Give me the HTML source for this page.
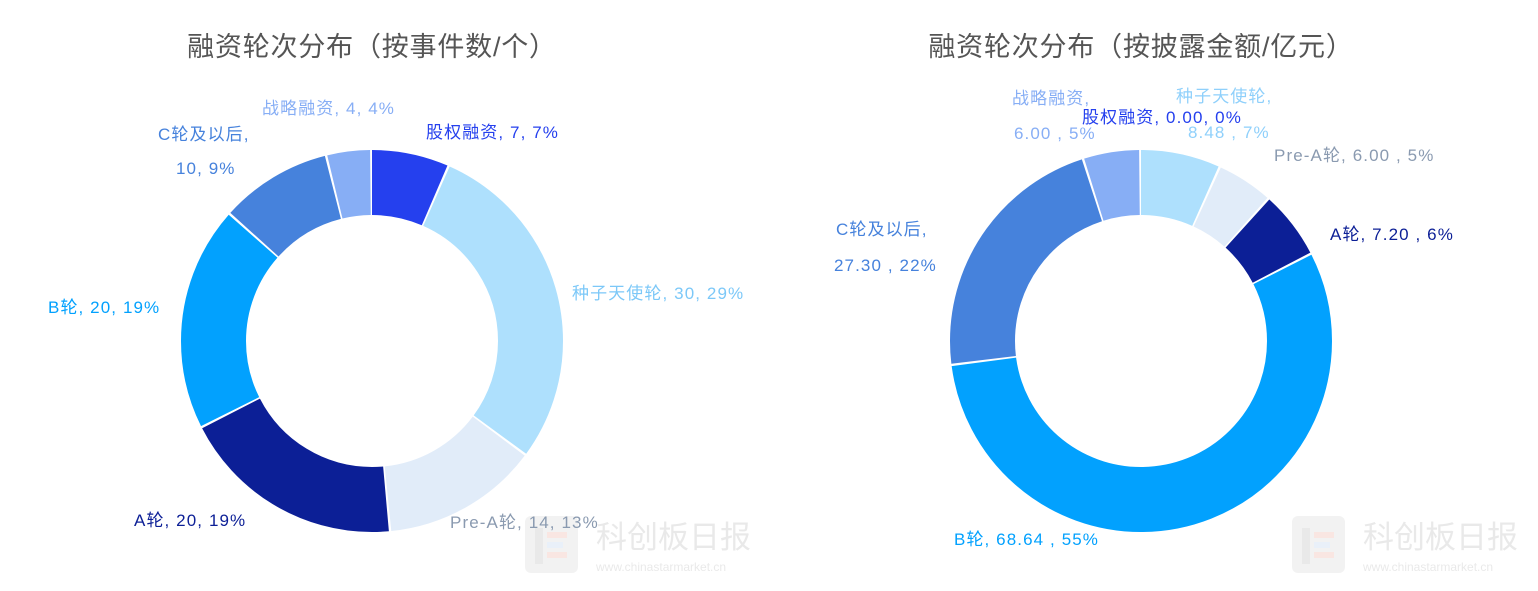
<!DOCTYPE html>
<html><head><meta charset="utf-8"><style>
body{margin:0;background:#fff;}
svg text{font-family:"Liberation Sans","Noto Sans CJK SC",sans-serif;}
</style></head><body>
<svg width="1538" height="586" viewBox="0 0 1538 586" xmlns="http://www.w3.org/2000/svg">
<rect width="1538" height="586" fill="#fff"/>
<text x="372" y="56" font-size="27" fill="#555" text-anchor="middle" letter-spacing="0.8">融资轮次分布（按事件数/个）</text>
<text x="1141" y="56" font-size="27" fill="#555" text-anchor="middle" letter-spacing="0.8">融资轮次分布（按披露金额/亿元）</text>

<!-- watermarks -->
<g opacity="0.45">
<rect x="525" y="516" width="53" height="57" rx="6" fill="#e4e4e4"/>
<rect x="535" y="528" width="8" height="36" fill="#d0d0d0"/>
<rect x="547" y="532" width="20" height="6" fill="#f2c8c0"/>
<rect x="547" y="542" width="16" height="6" fill="#cfe0f3"/>
<rect x="547" y="552" width="20" height="6" fill="#f2c8c0"/>
<text x="596" y="548" font-size="31" fill="#cfcfcf">科创板日报</text>
<text x="596" y="571" font-size="12" fill="#cfcfcf">www.chinastarmarket.cn</text>
<rect x="1292" y="516" width="53" height="57" rx="6" fill="#e4e4e4"/>
<rect x="1302" y="528" width="8" height="36" fill="#d0d0d0"/>
<rect x="1314" y="532" width="20" height="6" fill="#f2c8c0"/>
<rect x="1314" y="542" width="16" height="6" fill="#cfe0f3"/>
<rect x="1314" y="552" width="20" height="6" fill="#f2c8c0"/>
<text x="1363" y="548" font-size="31" fill="#cfcfcf">科创板日报</text>
<text x="1363" y="571" font-size="12" fill="#cfcfcf">www.chinastarmarket.cn</text>
</g>

<!-- left donut -->
<g transform="translate(372,341) rotate(-90)" fill="none" stroke-width="65">
<circle r="158.5" stroke="#2540ee" stroke-dasharray="64.39 1000" stroke-dashoffset="0"/>
<circle r="158.5" stroke="#aee0fd" stroke-dasharray="282.54 1000" stroke-dashoffset="-66.39"/>
<circle r="158.5" stroke="#e1ecf9" stroke-dasharray="130.78 1000" stroke-dashoffset="-350.93"/>
<circle r="158.5" stroke="#0c1f96" stroke-dasharray="187.69 1000" stroke-dashoffset="-483.71"/>
<circle r="158.5" stroke="#02a1fe" stroke-dasharray="187.69 1000" stroke-dashoffset="-673.40"/>
<circle r="158.5" stroke="#4682dc" stroke-dasharray="92.85 1000" stroke-dashoffset="-863.09"/>
<circle r="158.5" stroke="#87aef5" stroke-dasharray="35.94 1000" stroke-dashoffset="-957.94"/>
</g>
<!-- right donut -->
<g transform="translate(1141,341) rotate(-90)" fill="none" stroke-width="65">
<circle r="158.5" stroke="#aee0fd" stroke-dasharray="66.32 1000" stroke-dashoffset="0"/>
<circle r="158.5" stroke="#e1ecf9" stroke-dasharray="46.34 1000" stroke-dashoffset="-68.32"/>
<circle r="158.5" stroke="#0c1f96" stroke-dasharray="56.00 1000" stroke-dashoffset="-116.66"/>
<circle r="158.5" stroke="#02a1fe" stroke-dasharray="550.97 1000" stroke-dashoffset="-174.66"/>
<circle r="158.5" stroke="#4682dc" stroke-dasharray="217.93 1000" stroke-dashoffset="-727.63"/>
<circle r="158.5" stroke="#87aef5" stroke-dasharray="46.34 1000" stroke-dashoffset="-947.56"/>
</g>

<g font-size="17" letter-spacing="1.1">
<text x="262" y="114" fill="#87aef5">战略融资, 4, 4%</text>
<text x="426" y="138" fill="#2540ee">股权融资, 7, 7%</text>
<text x="158" y="140" fill="#4682dc">C轮及以后,</text>
<text x="176" y="174" fill="#4682dc">10, 9%</text>
<text x="572" y="299" fill="#7cc8f8">种子天使轮, 30, 29%</text>
<text x="48" y="313" fill="#02a1fe">B轮, 20, 19%</text>
<text x="134" y="526" fill="#0c1f96">A轮, 20, 19%</text>
<text x="450" y="528" fill="#8a9ab0">Pre-A轮, 14, 13%</text>

<text x="1012" y="104" fill="#87aef5">战略融资,</text>
<text x="1014" y="139" fill="#87aef5">6.00 , 5%</text>
<text x="1176" y="102" fill="#8fd0fb">种子天使轮,</text>
<text x="1188" y="138" fill="#8fd0fb">8.48 , 7%</text>
<text x="1082" y="123" fill="#2540ee">股权融资, 0.00, 0%</text>
<text x="1274" y="161" fill="#8a9ab0">Pre-A轮, 6.00 , 5%</text>
<text x="1330" y="240" fill="#0c1f96">A轮, 7.20 , 6%</text>
<text x="836" y="235" fill="#4682dc">C轮及以后,</text>
<text x="834" y="271" fill="#4682dc">27.30 , 22%</text>
<text x="954" y="545" fill="#02a1fe">B轮, 68.64 , 55%</text>
</g>
</svg>
</body></html>
